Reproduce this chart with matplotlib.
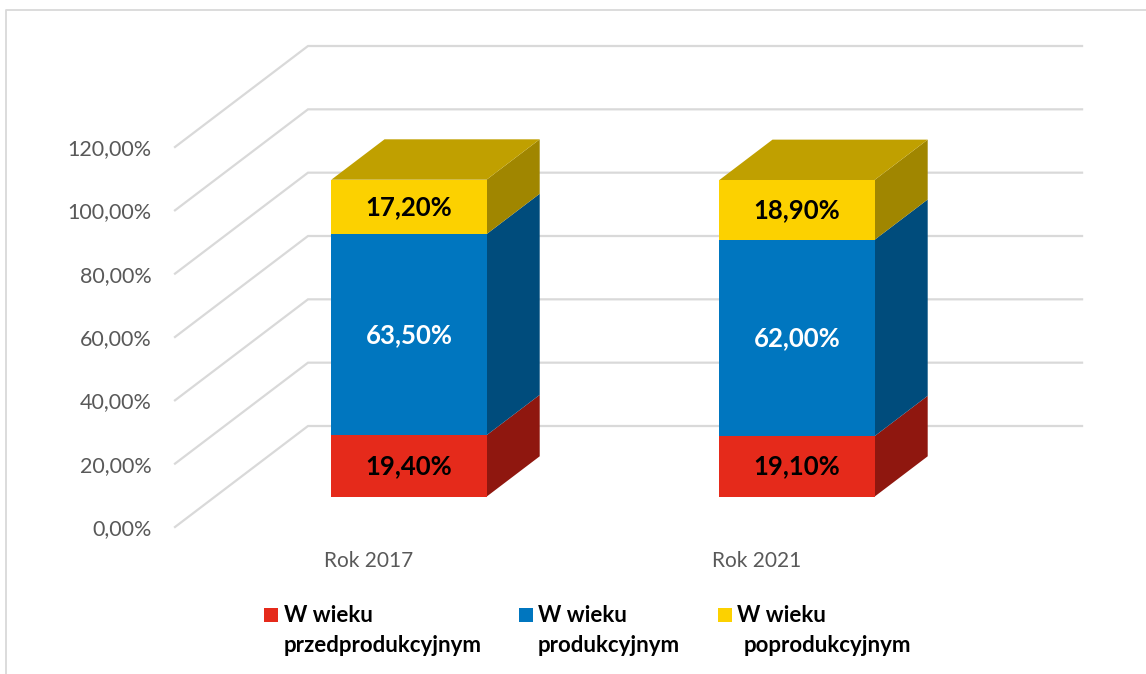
import matplotlib
matplotlib.use('Agg')
import matplotlib.pyplot as plt
from matplotlib.lines import Line2D
from matplotlib.patches import Polygon, Rectangle

plt.rcParams['font.family'] = ['Lato', 'DejaVu Sans']

years = ['Rok 2017', 'Rok 2021']
young = [19.4, 19.1]
working = [63.5, 62.0]
old = [17.2, 18.9]
y_ticks = [0, 20, 40, 60, 80, 100, 120]

legend_first = ['W wieku', 'W wieku', 'W wieku']
legend_second = ['przedprodukcyjnym', 'produkcyjnym', 'poprodukcyjnym']

front = ['#E52A1B', '#0076BF', '#FCD100']
side = ['#8F170F', '#004C7C', '#A08600']
top_color = '#C0A000'
label_color = ['black', 'white', 'black']
grid_color = '#D9D9D9'

W, H = 1146, 674
# depth of the whole floor in axis units (x in categories, y in percent)
DX = 133 / 388
DY = 101 / 380 * 120
BAR_W = 0.4
BAR_START = 0.3
BAR_DEPTH = 0.4


def fx(px):
    return px / W


def fy(px):
    return 1 - px / H


fig = plt.figure(figsize=(W / 100, H / 100), dpi=100)
ax = fig.add_axes([fx(175), fy(527), (951 - 175) / W, (527 - 147) / H])
ax.set_xlim(-0.5, 1.5)
ax.set_ylim(0, 120)
for s in ax.spines.values():
    s.set_visible(False)
ax.patch.set_alpha(0)

ax.set_yticks(y_ticks)
ax.set_yticklabels([f'{t},00%' for t in y_ticks], fontsize=15.5, color='#595959')
ax.set_xticks(range(len(years)))
ax.set_xticklabels(years, fontsize=15, color='#595959')
ax.tick_params(axis='y', length=0, pad=17)
ax.tick_params(axis='x', length=0, pad=17)

# floor/wall grid lines
for t in y_ticks:
    ax.plot([-0.5, -0.5 + DX, 1.495 + DX], [t, t + DY, t + DY], color=grid_color,
            lw=1.6, clip_on=False, zorder=1, solid_joinstyle='miter')

# stacked boxes
for i in range(len(years)):
    x0 = i - BAR_W / 2
    x1 = i + BAR_W / 2
    ox = BAR_START * DX
    oy = BAR_START * DY
    dx = BAR_DEPTH * DX
    dy = BAR_DEPTH * DY
    base = 0
    for k, series in enumerate([young, working, old]):
        v = series[i]
        y0 = base + oy
        y1 = base + v + oy
        ax.add_patch(Polygon([(x1 + ox, y0), (x1 + ox + dx, y0 + dy), (x1 + ox + dx, y1 + dy), (x1 + ox, y1)],
                             facecolor=side[k], edgecolor='none', clip_on=False, zorder=3))
        ax.add_patch(Rectangle((x0 + ox, y0), BAR_W, v, facecolor=front[k], edgecolor='none',
                               clip_on=False, zorder=4))
        ax.text(i + ox, (y0 + y1) / 2, f'{v:.2f}%'.replace('.', ','), ha='center', va='center',
                fontsize=18.5, fontweight='bold', color=label_color[k], zorder=5)
        base += v
    y1 = base + oy
    ax.add_patch(Polygon([(x0 + ox, y1), (x1 + ox, y1), (x1 + ox + dx, y1 + dy), (x0 + ox + dx, y1 + dy)],
                         facecolor=top_color, edgecolor='none', clip_on=False, zorder=3))

# legend
square_x = [264, 519, 718]
text_x = [284, 538, 737]
second_x = [284, 538, 744]
for k in range(3):
    fig.add_artist(Rectangle((fx(square_x[k]), fy(622)), 14 / W, 14 / H, transform=fig.transFigure,
                             facecolor=front[k], edgecolor='none'))
    fig.text(fx(text_x[k]), fy(616), legend_first[k], fontsize=16, fontweight='bold', va='center')
    fig.text(fx(second_x[k]), fy(645), legend_second[k], fontsize=16, fontweight='bold', va='center')

# chart frame, cut off by the screenshot on the right and bottom
fig.add_artist(Line2D([fx(1146), fx(6), fx(6)], [fy(10), fy(10), fy(674)], color=grid_color, lw=1.3,
                      transform=fig.transFigure))

fig.savefig('out.png', dpi=100, facecolor='white')
